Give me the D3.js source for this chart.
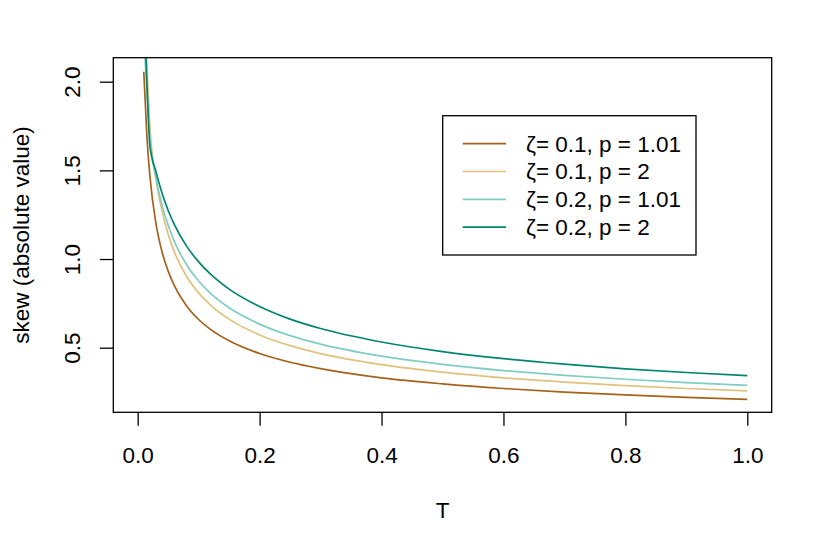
<!DOCTYPE html>
<html>
<head>
<meta charset="utf-8">
<script src="https://cdn.jsdelivr.net/npm/d3@7"></script>
<style>
  html, body { margin: 0; padding: 0; background: #ffffff; }
  svg { display: block; }
  text { font-family: "Liberation Sans", Arial, Helvetica, sans-serif; fill: #000; }
</style>
</head>
<body>
<svg id="chart" width="830" height="554"></svg>
<script>
// ---- data ----
const tValues = [0.01, 0.015, 0.02, 0.03, 0.04, 0.05, 0.06, 0.08, 0.10, 0.12, 0.15,
                 0.20, 0.25, 0.30, 0.40, 0.50, 0.60, 0.70, 0.80, 0.90, 1.00];
const skewZ01p101 = [2.056, 1.700, 1.470, 1.200, 1.040, 0.932, 0.851, 0.737, 0.659, 0.602, 0.539,
                     0.467, 0.418, 0.382, 0.330, 0.296, 0.270, 0.250, 0.234, 0.220, 0.209];
const skewZ01p2   = [2.500, 2.100, 1.750, 1.450, 1.270, 1.140, 1.042, 0.903, 0.809, 0.739, 0.661,
                     0.572, 0.512, 0.467, 0.405, 0.362, 0.330, 0.306, 0.286, 0.270, 0.256];
const skewZ02p101 = [2.250, 1.960, 1.690, 1.458, 1.304, 1.190, 1.101, 0.969, 0.876, 0.805, 0.725,
                     0.633, 0.568, 0.520, 0.452, 0.406, 0.371, 0.344, 0.322, 0.303, 0.288];
const skewZ02p2   = [2.500, 2.000, 1.640, 1.493, 1.371, 1.274, 1.196, 1.074, 0.984, 0.913, 0.830,
                     0.732, 0.661, 0.608, 0.532, 0.478, 0.438, 0.407, 0.381, 0.360, 0.342];
const seriesLabels = ["ζ= 0.1, p = 1.01", "ζ= 0.1, p = 2", "ζ= 0.2, p = 1.01", "ζ= 0.2, p = 2"];
const seriesColors = ["#A6611A", "#DFC27D", "#80CDC1", "#018571"];
const xTicks = [0, 0.2, 0.4, 0.6, 0.8, 1.0];
const yTicks = [0.5, 1.0, 1.5, 2.0];
const xTitle = "T";
const yTitle = "skew (absolute value)";

const allSeries = [skewZ01p101, skewZ01p2, skewZ02p101, skewZ02p2];

// ---- layout ----
const svg = d3.select("#chart");
const pLeft = 113.3, pRight = 771.7, pTop = 57.7, pBottom = 412.3;
const fontSize = 22.5;
const fontFam = "'Liberation Sans', Arial, Helvetica, sans-serif";

const x = d3.scaleLinear().domain([-0.04, 1.04]).range([pLeft, pRight]);
const y = d3.scaleLinear().domain([0.1357, 2.1353]).range([pBottom, pTop]);

svg.append("defs").append("clipPath").attr("id", "plotclip")
  .append("rect").attr("x", pLeft).attr("y", pTop)
  .attr("width", pRight - pLeft).attr("height", pBottom - pTop);

// curves
const line = d3.line()
  .x((d, i) => x(tValues[i]))
  .y(d => y(d))
  .curve(d3.curveMonotoneX);

const curveG = svg.append("g").attr("clip-path", "url(#plotclip)");
allSeries.forEach((s, k) => {
  curveG.append("path")
    .datum(s)
    .attr("d", line)
    .attr("fill", "none")
    .attr("stroke", seriesColors[k])
    .attr("stroke-width", 1.7)
    .attr("stroke-linejoin", "round");
});

// box
svg.append("rect")
  .attr("x", pLeft).attr("y", pTop)
  .attr("width", pRight - pLeft).attr("height", pBottom - pTop)
  .attr("fill", "none").attr("stroke", "#000").attr("stroke-width", 1.3);

// x axis
const xAxis = d3.axisBottom(x).tickValues(xTicks).tickFormat(d3.format(".1f")).tickSize(13.5);
const gx = svg.append("g").attr("transform", `translate(0,${pBottom})`).call(xAxis);
gx.select(".domain").remove();
gx.selectAll(".tick line").attr("stroke", "#000").attr("stroke-width", 1.3);
gx.selectAll(".tick text")
  .attr("y", 50.8).attr("dy", 0)
  .attr("font-size", fontSize)
  .attr("font-family", fontFam)
  .attr("fill", "#000");

// y axis
const yAxis = d3.axisLeft(y).tickValues(yTicks).tickFormat(d3.format(".1f")).tickSize(13.5);
const gy = svg.append("g").attr("transform", `translate(${pLeft},0)`).call(yAxis);
gy.select(".domain").remove();
gy.selectAll(".tick line").attr("stroke", "#000").attr("stroke-width", 1.3);
gy.selectAll(".tick text")
  .attr("x", 0).attr("y", 0).attr("dy", 0)
  .attr("text-anchor", "middle")
  .attr("transform", "translate(-33.3,0) rotate(-90)")
  .attr("font-size", fontSize)
  .attr("font-family", fontFam)
  .attr("fill", "#000");

// titles
svg.append("text")
  .attr("x", (pLeft + pRight) / 2).attr("y", 518)
  .attr("text-anchor", "middle").attr("font-size", fontSize)
  .text(xTitle);
svg.append("text")
  .attr("transform", `translate(28.5,${(pTop + pBottom) / 2}) rotate(-90)`)
  .attr("text-anchor", "middle").attr("font-size", fontSize)
  .text(yTitle);

// legend
const lg = svg.append("g");
lg.append("rect")
  .attr("x", 442.7).attr("y", 115.7)
  .attr("width", 696 - 442.7).attr("height", 255 - 115.7)
  .attr("fill", "#fff").attr("stroke", "#000").attr("stroke-width", 1.3);
seriesLabels.forEach((lab, k) => {
  const ry = 143.7 + k * 27.8;
  lg.append("line")
    .attr("x1", 462.7).attr("x2", 506)
    .attr("y1", ry).attr("y2", ry)
    .attr("stroke", seriesColors[k]).attr("stroke-width", 1.7);
  lg.append("text")
    .attr("x", 526).attr("y", ry + 7.9)
    .attr("font-size", fontSize)
    .text(lab);
});
</script>
</body>
</html>
